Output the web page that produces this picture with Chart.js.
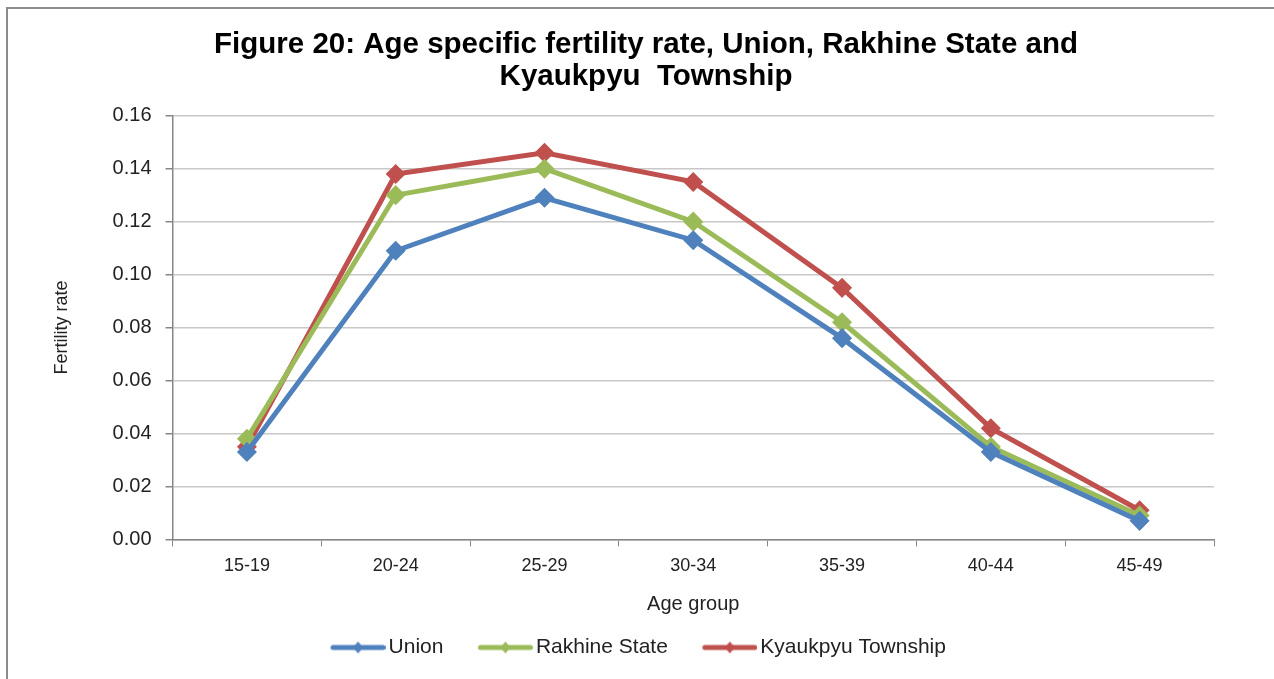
<!DOCTYPE html>
<html lang="en">
<head>
  <meta charset="UTF-8">
  <title>Age specific fertility rate</title>
  <script src="https://cdn.jsdelivr.net/npm/chart.js"></script>
  <style>
    body {
      margin: 0;
      background: #ffffff;
      font-family: 'Liberation Sans', Arial, sans-serif;
    }
    .frame {
      position: absolute;
      left: 6px;
      top: 7px;
      width: 1280px;
      height: 690px;
      border: 2px solid #8c8c8c;
      box-sizing: border-box;
    }
    .box {
      position: absolute;
      left: 0;
      top: 0;
      width: 1266px;
      height: 670px;
    }
  </style>
</head>
<body>
  <div class="frame">
    <div class="box"><canvas id="fertChart"></canvas></div>
  </div>

  <script>
    const ageGroups = ["15-19", "20-24", "25-29", "30-34", "35-39", "40-44", "45-49"];
    const unionRates = [0.033, 0.109, 0.129, 0.113, 0.076, 0.033, 0.007];
    const rakhineRates = [0.038, 0.130, 0.140, 0.120, 0.082, 0.035, 0.009];
    const kyaukpyuRates = [0.035, 0.138, 0.146, 0.135, 0.095, 0.042, 0.011];
    const yTicks = [0, 0.02, 0.04, 0.06, 0.08, 0.10, 0.12, 0.14, 0.16];

    const FONT = "'Liberation Sans', Arial, sans-serif";

    // legend glyph: line with a small diamond, drawn at the right side of the image
    function legendIcon(color) {
      const c = document.createElement('canvas');
      c.width = 81; c.height = 14;
      const g = c.getContext('2d');
      g.strokeStyle = color;
      g.lineWidth = 5;
      g.lineCap = 'round';
      g.beginPath();
      g.moveTo(28.5, 7); g.lineTo(78.5, 7);
      g.stroke();
      g.fillStyle = color;
      g.beginPath();
      g.moveTo(53.5, 1); g.lineTo(58.5, 7); g.lineTo(53.5, 13); g.lineTo(48.5, 7);
      g.closePath();
      g.fill();
      return c;
    }

    function series(label, data, color) {
      return {
        label: label,
        data: data,
        borderColor: color,
        backgroundColor: color,
        borderWidth: 5,
        pointStyle: 'rectRot',
        pointRadius: 6.5,
        pointHoverRadius: 6.5,
        tension: 0,
        fill: false,
        icon: legendIcon(color)
      };
    }

    // nudge title and legend sideways, the way the original is placed
    const shiftBlocks = {
      id: 'shiftBlocks',
      afterLayout(chart) {
        chart.titleBlock.left += 40;
        chart.legend.left += 3;
        chart.legend.right += 3;
      }
    };

    new Chart(document.getElementById("fertChart"), {
      type: 'line',
      data: {
        labels: ageGroups,
        datasets: [
          series("Union", unionRates, "#4f81bd"),
          series("Rakhine State", rakhineRates, "#9bbb59"),
          series("Kyaukpyu Township", kyaukpyuRates, "#c0504d")
        ]
      },
      plugins: [shiftBlocks],
      options: {
        responsive: true,
        maintainAspectRatio: false,
        animation: false,
        layout: { padding: { left: 30, right: 60, top: 10, bottom: 11 } },
        plugins: {
          title: {
            display: true,
            text: ["Figure 20: Age specific fertility rate, Union, Rakhine State and", "Kyaukpyu  Township"],
            color: '#000',
            font: { family: FONT, size: 29.5, weight: 'bold', lineHeight: 1.08 },
            padding: { top: 10, bottom: 23 }
          },
          legend: {
            position: 'bottom',
            labels: {
              color: '#222',
              font: { family: FONT, size: 21 },
              usePointStyle: true,
              pointStyleWidth: 66,
              padding: 16,
              generateLabels: function (chart) {
                return chart.data.datasets.map((ds, i) => ({
                  text: ds.label,
                  pointStyle: ds.icon,
                  fillStyle: ds.borderColor,
                  strokeStyle: ds.borderColor,
                  lineWidth: 0,
                  fontColor: '#222',
                  datasetIndex: i
                }));
              }
            }
          },
          tooltip: { enabled: false }
        },
        scales: {
          x: {
            offset: true,
            grid: {
              offset: true,
              drawOnChartArea: false,
              drawTicks: true,
              tickLength: 7,
              color: '#868686'
            },
            border: { color: '#868686', width: 1.5 },
            ticks: {
              color: '#222',
              font: { family: FONT, size: 18 },
              padding: 9
            },
            title: {
              display: true,
              text: 'Age group',
              color: '#222',
              font: { family: FONT, size: 20 },
              padding: { top: 6, bottom: 5 }
            }
          },
          y: {
            min: 0,
            max: 0.16,
            afterBuildTicks: function (axis) {
              axis.ticks = yTicks.map(v => ({ value: v }));
            },
            grid: {
              color: '#c8c8c8',
              lineWidth: 1.5,
              tickLength: 7,
              tickColor: '#868686'
            },
            border: { color: '#868686', width: 1.5 },
            ticks: {
              color: '#222',
              font: { family: FONT, size: 20 },
              padding: 14,
              callback: v => Number(v).toFixed(2)
            },
            title: {
              display: true,
              text: 'Fertility rate',
              color: '#222',
              font: { family: FONT, size: 18 },
              padding: { top: 13, bottom: 26 }
            }
          }
        }
      }
    });
  </script>
</body>
</html>
